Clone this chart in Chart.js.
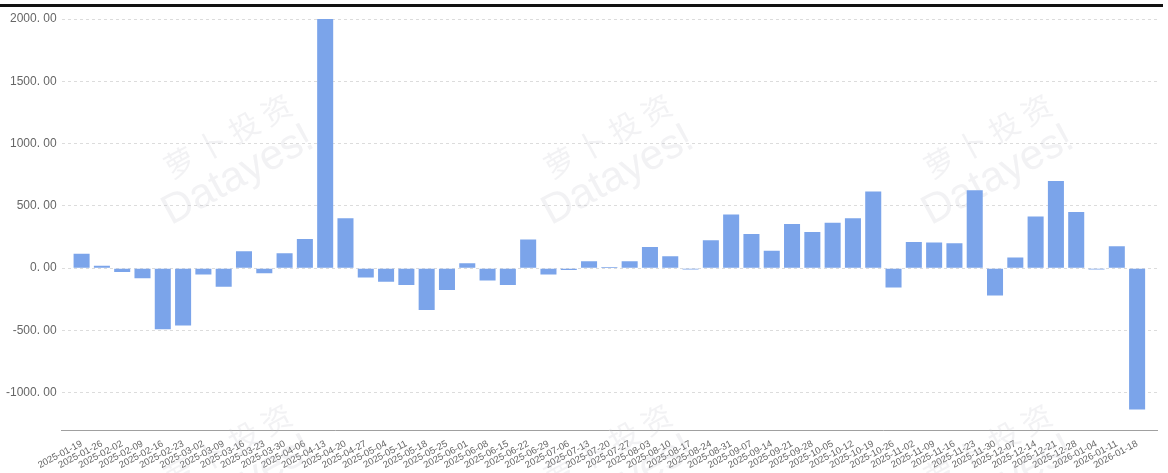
<!DOCTYPE html>
<html>
<head>
<meta charset="utf-8">
<script src="https://cdn.jsdelivr.net/npm/chart.js@4"></script>
<style>
  body { margin: 0; background: #fff; }
  #wrap { position: relative; width: 1168px; height: 473px; }
  #topline { position: absolute; left: 0; top: 4px; width: 1163px; height: 3px; background: #111; }
  canvas { position: absolute; left: 0; top: 0; }
</style>
</head>
<body>
<div id="wrap">
  <canvas id="chart" width="1168" height="473"></canvas>
  <div id="topline"></div>
</div>
<script>
// weekly dates
var labels = [
  '2025-01-19','2025-01-26','2025-02-02','2025-02-09','2025-02-16','2025-02-23',
  '2025-03-02','2025-03-09','2025-03-16','2025-03-23','2025-03-30','2025-04-06',
  '2025-04-13','2025-04-20','2025-04-27','2025-05-04','2025-05-11','2025-05-18',
  '2025-05-25','2025-06-01','2025-06-08','2025-06-15','2025-06-22','2025-06-29',
  '2025-07-06','2025-07-13','2025-07-20','2025-07-27','2025-08-03','2025-08-10',
  '2025-08-17','2025-08-24','2025-08-31','2025-09-07','2025-09-14','2025-09-21',
  '2025-09-28','2025-10-05','2025-10-12','2025-10-19','2025-10-26','2025-11-02',
  '2025-11-09','2025-11-16','2025-11-23','2025-11-30','2025-12-07','2025-12-14',
  '2025-12-21','2025-12-28','2026-01-04','2026-01-11','2026-01-18'
];

var values = [
  115, 20, -30, -80, -490, -460,
  -50, -150, 135, -40, 120, 235,
  2000, 400, -75, -110, -135, -335,
  -175, 40, -100, -135, 230, -50,
  -15, 55, 10, 55, 170, 95,
  -10, 225, 430, 275, 140, 355,
  290, 365, 400, 615, -155, 210,
  205, 200, 625, -220, 85, 415,
  700, 450, -10, 175, -1135
];

var yTicks = [-1000, -500, 0, 500, 1000, 1500, 2000];

// faint watermark like the original
var watermark = {
  id: 'watermark',
  beforeDatasetsDraw: function(chart) {
    var ctx = chart.ctx;
    var spots = [[235, 170], [615, 170], [995, 170], [235, 480], [615, 480], [995, 480]];
    ctx.save();
    ctx.fillStyle = 'rgba(190,190,200,0.2)';
    spots.forEach(function(p) {
      ctx.save();
      ctx.translate(p[0], p[1]);
      ctx.rotate(-0.5);
      ctx.font = '30px "Noto Sans CJK SC"';
      ctx.textAlign = 'center';
      ctx.fillText('萝 卜 投 资', 10, -22);
      ctx.font = '42px "Liberation Sans"';
      ctx.fillText('Datayes!', 0, 18);
      ctx.restore();
    });
    ctx.restore();
  }
};

new Chart(document.getElementById('chart'), {
  type: 'bar',
  data: {
    datasets: [{
      data: values.map(function(v, i) { return { x: i, y: v }; }),
      backgroundColor: '#7ba4ea',
      barPercentage: 0.79,
      categoryPercentage: 1
    }]
  },
  plugins: [watermark],
  options: {
    responsive: false,
    animation: false,
    layout: { padding: { left: 1, right: 11, top: 19, bottom: 2 } },
    plugins: {
      legend: { display: false },
      tooltip: { enabled: false }
    },
    scales: {
      x: {
        type: 'linear',
        offset: false,
        min: -0.98,
        max: labels.length - 0.02,
        afterBuildTicks: function(scale) {
          scale.ticks = labels.map(function(l, i) { return { value: i }; });
        },
        grid: { display: false },
        border: { color: '#a0a0a0', width: 1 },
        ticks: {
          color: '#666',
          font: { family: 'Liberation Sans', size: 9.5 },
          autoSkip: false,
          maxRotation: 28,
          minRotation: 28,
          padding: 0,
          callback: function(v) { return labels[v] || ''; }
        }
      },
      y: {
        min: -1300,
        max: 2000,
        afterBuildTicks: function(scale) {
          scale.ticks = yTicks.map(function(v) { return { value: v }; });
        },
        grid: { color: '#dcdcdc', drawTicks: false },
        border: { display: false, dash: [3, 3] },
        ticks: {
          color: '#666',
          font: { family: 'Liberation Sans', size: 12 },
          padding: 5,
          callback: function(v) { return v.toFixed(2).replace('.', '. '); }
        }
      }
    }
  }
});
</script>
</body>
</html>
